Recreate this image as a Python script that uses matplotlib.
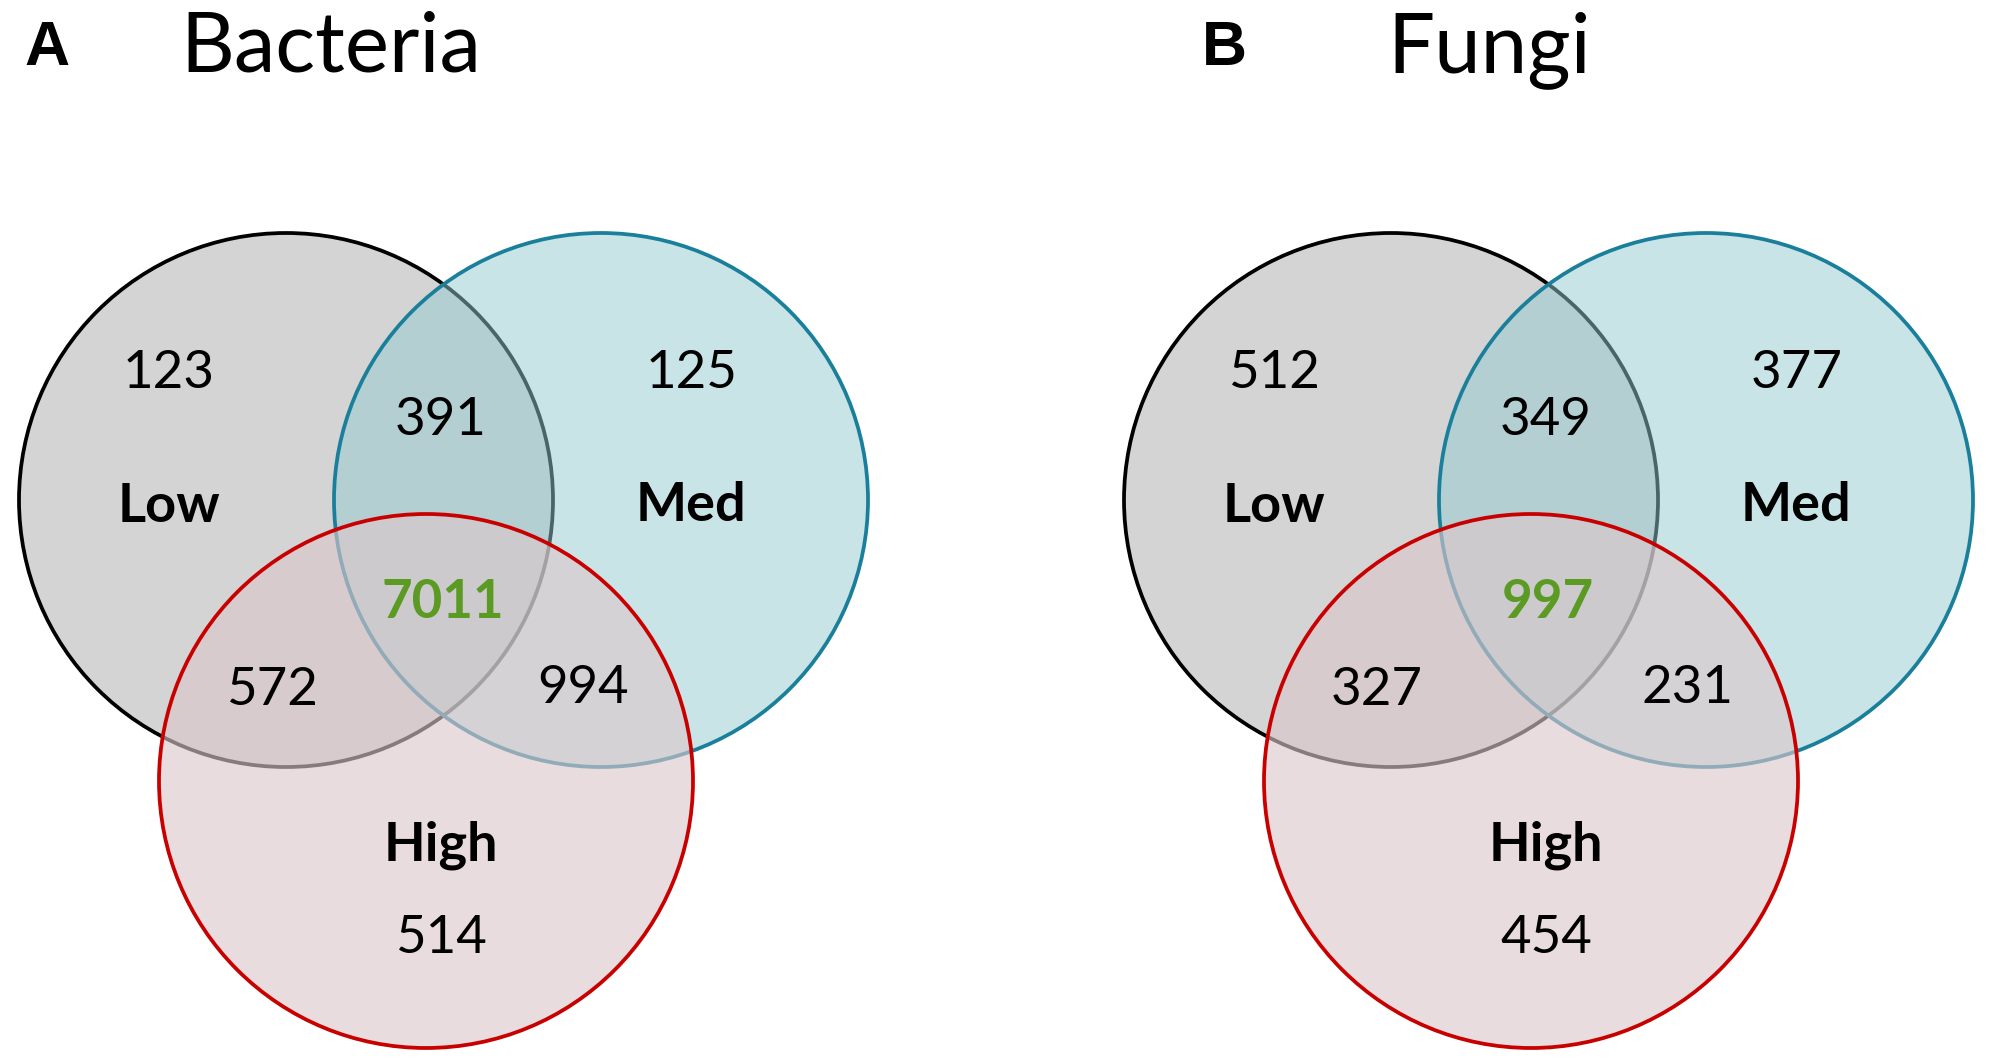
import matplotlib.pyplot as plt
from matplotlib.patches import Circle

# ---------------------------------- data ----------------------------------
panel_letters = ["A", "B"]
panel_titles = ["Bacteria", "Fungi"]
set_names = ["Low", "Med", "High"]
# region order: Low only, Med only, High only, Low&Med, Low&High, Med&High, all three
bacteria_counts = [123, 125, 514, 391, 572, 994, 7011]
fungi_counts = [512, 377, 454, 349, 327, 231, 997]

# ---------------------------------- layout --------------------------------
panel_x0 = [286, 1391]          # centre of the Low circle in each panel (px)
panel_y0 = 500
radius = 267
circle_offsets = [(0, 0), (315, 0), (140, 281)]
face_colors = [(0.45, 0.45, 0.45, 0.30), (0.584, 0.796, 0.82, 0.5), (0.861, 0.779, 0.792, 0.62)]
edge_colors = ["#000000", "#1a7f9b", "#c80000"]
count_pos = [(-117, -112), (406, -112), (155, 453), (155, -65), (-14, 205), (297, 203), (157, 118)]
name_pos = [(-117, 22), (405, 21), (155, 360)]

fig = plt.figure(figsize=(19.92, 10.64), dpi=100)
ax = fig.add_axes([0, 0, 1, 1])
ax.set_xlim(0, 1992)
ax.set_ylim(1064, 0)
ax.axis("off")

font = "Lato"

def drawVenn(x0, y0, counts):
    # circles drawn in order so later fills tint earlier ones
    for i in range(3):
        dx, dy = circle_offsets[i]
        c = Circle((x0 + dx, y0 + dy), radius, facecolor=face_colors[i],
                   edgecolor=edge_colors[i], linewidth=2.7, zorder=i + 1)
        ax.add_patch(c)
    for i, n in enumerate(counts):
        dx, dy = count_pos[i]
        if i == 6:
            ax.text(x0 + dx, y0 + dy, str(n), ha="center", va="baseline", fontsize=38,
                    family=font, fontweight="bold", color="#5b9a23", zorder=10)
        else:
            ax.text(x0 + dx, y0 + dy, str(n), ha="center", va="baseline", fontsize=38,
                    family=font, color="black", zorder=10)
    for i, name in enumerate(set_names):
        dx, dy = name_pos[i]
        ax.text(x0 + dx, y0 + dy, name, ha="center", va="baseline", fontsize=39,
                family=font, fontweight="bold", color="black", zorder=10)

letter_x = [47, 1224]
title_x = [180, 1387]
for k in range(2):
    counts = bacteria_counts if k == 0 else fungi_counts
    drawVenn(panel_x0[k], panel_y0, counts)
    ax.text(letter_x[k], 65, panel_letters[k], ha="center", va="baseline", fontsize=45,
            family="Liberation Sans", fontweight="bold")
    ax.text(title_x[k], 72, panel_titles[k], ha="left", va="baseline", fontsize=60,
            family=font)

fig.savefig("out.png", dpi=100, facecolor="white")
